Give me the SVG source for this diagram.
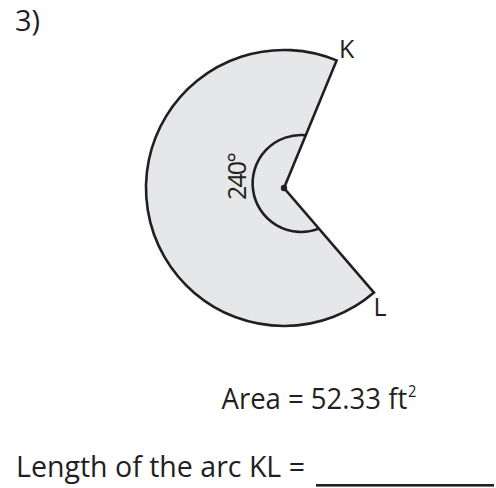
<svg xmlns="http://www.w3.org/2000/svg" width="496" height="488" viewBox="0 0 496 488">
<style>
.t{font-family:"Open Sans","Liberation Sans",sans-serif;fill:#231f20}
.ln{fill:none;stroke:#231f20;stroke-width:2.6}
</style>
<rect width="496" height="488" fill="#ffffff"/>
<g id="sector">
<path d="M284,188 L336.6,60.4 A138,138 0 1 0 374,292.6 Z" fill="#e6e7e8" stroke="#231f20" stroke-width="2.6"/>
</g>
<g id="angle-mark">
<path class="ln" d="M305.75,135.2 A48.5,48.5 0 1 0 318.9,228.6"/>
<circle cx="284" cy="188" r="3.2" fill="#231f20"/>
<text class="t" font-size="25" transform="translate(246,200) rotate(-90)" textLength="48">240°</text>
</g>
<g id="labels">
<text class="t" x="15" y="31" font-size="29">3)</text>
<text class="t" x="339" y="57.5" font-size="25">K</text>
<text class="t" x="373.5" y="315.5" font-size="25">L</text>
<text class="t" x="221.5" y="409" font-size="30" textLength="195" lengthAdjust="spacingAndGlyphs">Area = 52.33 ft<tspan dx="1" dy="-12" font-size="16">2</tspan></text>
<text class="t" x="16" y="477" font-size="30" textLength="289" lengthAdjust="spacingAndGlyphs">Length of the arc KL =</text>
</g>
<g id="connectors">
<rect x="316" y="484" width="178" height="2.6" fill="#231f20"/>
</g>
</svg>
